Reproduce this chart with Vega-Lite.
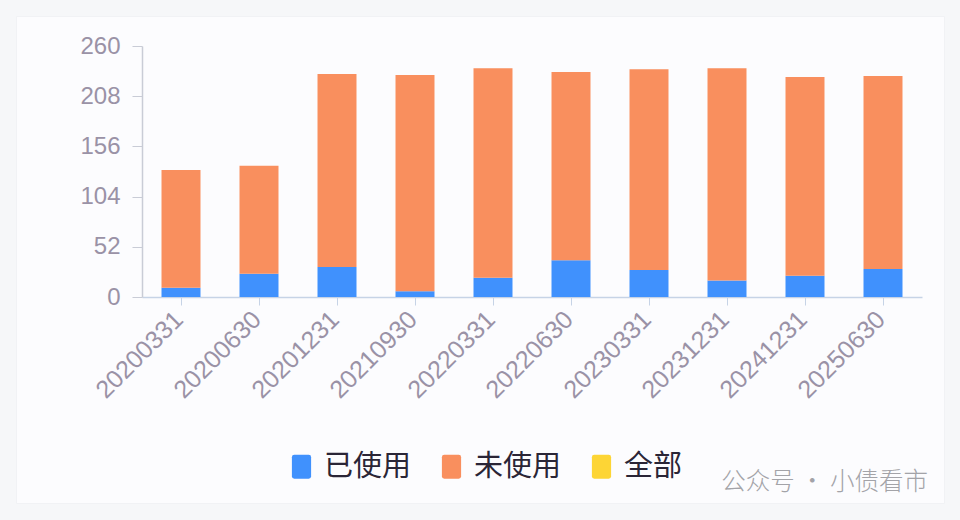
{
  "$schema": "https://vega.github.io/schema/vega-lite/v6.json",
  "width": 928,
  "height": 487,
  "padding": {"left": 16, "top": 16, "right": 16, "bottom": 17},
  "autosize": {"type": "none"},
  "background": "#f6f7f9",
  "view": {"fill": "#fcfcfe", "stroke": "#f1f2f5"},
  "title": {
    "text": "公众号 · 小债看市",
    "orient": "bottom",
    "anchor": "end",
    "offset": -32,
    "dx": -16,
    "font": "Noto Sans CJK SC",
    "fontSize": 24.5,
    "fontWeight": 300,
    "color": "#a3a3a8"
  },
  "data": {
    "values": [
      {"date": "20200331", "type": "已使用", "value": 9.5, "rank": 1},
      {"date": "20200331", "type": "未使用", "value": 122, "rank": 2},
      {"date": "20200630", "type": "已使用", "value": 24, "rank": 1},
      {"date": "20200630", "type": "未使用", "value": 112, "rank": 2},
      {"date": "20201231", "type": "已使用", "value": 31, "rank": 1},
      {"date": "20201231", "type": "未使用", "value": 200, "rank": 2},
      {"date": "20210930", "type": "已使用", "value": 6, "rank": 1},
      {"date": "20210930", "type": "未使用", "value": 224, "rank": 2},
      {"date": "20220331", "type": "已使用", "value": 20, "rank": 1},
      {"date": "20220331", "type": "未使用", "value": 217, "rank": 2},
      {"date": "20220630", "type": "已使用", "value": 38, "rank": 1},
      {"date": "20220630", "type": "未使用", "value": 195, "rank": 2},
      {"date": "20230331", "type": "已使用", "value": 28, "rank": 1},
      {"date": "20230331", "type": "未使用", "value": 208, "rank": 2},
      {"date": "20231231", "type": "已使用", "value": 17, "rank": 1},
      {"date": "20231231", "type": "未使用", "value": 220, "rank": 2},
      {"date": "20241231", "type": "已使用", "value": 22, "rank": 1},
      {"date": "20241231", "type": "未使用", "value": 206, "rank": 2},
      {"date": "20250630", "type": "已使用", "value": 29, "rank": 1},
      {"date": "20250630", "type": "未使用", "value": 200, "rank": 2}
    ]
  },
  "mark": {"type": "bar", "cornerRadius": 0},
  "encoding": {
    "x": {
      "field": "date",
      "type": "nominal",
      "sort": null,
      "title": null,
      "scale": {"range": [126, 906], "paddingInner": 0.5, "paddingOuter": 0.25},
      "axis": {
        "offset": -206,
        "labelAngle": -45,
        "labelAlign": "right",
        "labelBaseline": "middle",
        "labelFont": "Liberation Sans",
        "labelFontSize": 25,
        "labelFontWeight": 300,
        "labelColor": "#9a92a6",
        "labelPadding": 10,
        "labelOffset": -2,
        "labelOverlap": false,
        "domainColor": "#c6d3e6",
        "domainWidth": 1.5,
        "tickColor": "#c6d3e6",
        "tickSize": 8,
        "grid": false
      }
    },
    "y": {
      "field": "value",
      "type": "quantitative",
      "stack": "zero",
      "title": null,
      "scale": {"domain": [0, 260], "range": [281, 30], "nice": false},
      "axis": {
        "offset": -126,
        "values": [0, 52, 104, 156, 208, 260],
        "labelFont": "Liberation Sans",
        "labelFontSize": 24,
        "labelFontWeight": 300,
        "labelColor": "#9a92a6",
        "labelPadding": 12,
        "domainColor": "#c9ccd6",
        "domainWidth": 1.5,
        "tickColor": "#c9ccd6",
        "tickSize": 10,
        "grid": false
      }
    },
    "color": {
      "field": "type",
      "type": "nominal",
      "title": null,
      "scale": {
        "domain": ["已使用", "未使用", "全部"],
        "range": ["#4091fd", "#f98f5e", "#fdd535"]
      },
      "legend": {
        "orient": "none",
        "legendX": 271,
        "legendY": 436,
        "direction": "horizontal",
        "columns": 3,
        "symbolType": "M-0.6,-1 H0.6 Q0.8,-1 0.8,-0.8 V0.8 Q0.8,1 0.6,1 H-0.6 Q-0.8,1 -0.8,0.8 V-0.8 Q-0.8,-1 -0.6,-1 Z",
        "symbolSize": 576,
        "symbolStrokeWidth": 0,
        "labelFont": "Noto Sans CJK SC",
        "labelFontSize": 29,
        "labelColor": "#2a2536",
        "labelOffset": 8,
        "labelLimit": 200,
        "columnPadding": 25
      }
    },
    "order": {"field": "rank", "type": "ordinal"}
  }
}
